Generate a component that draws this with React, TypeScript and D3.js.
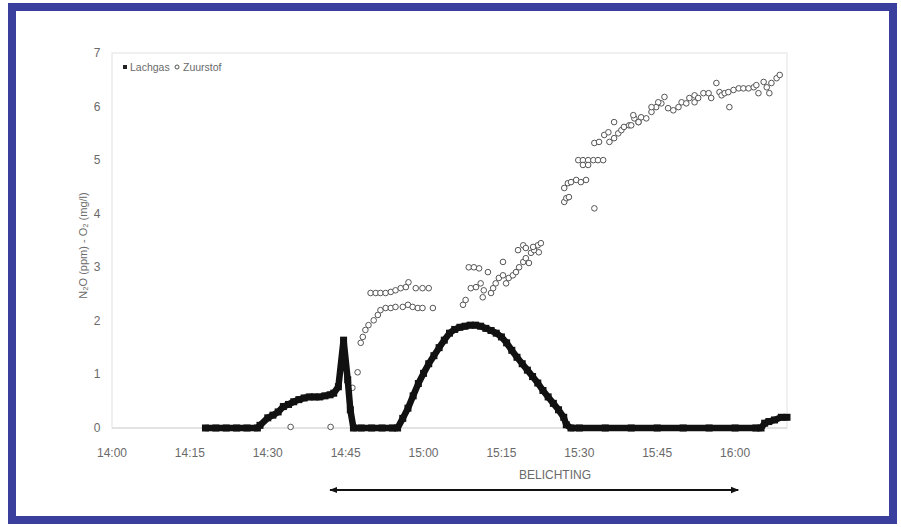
import React from "react";
import * as d3 from "d3";

// minutes after 14:00
const lachgasTime = [18, 20, 22, 24, 26, 28, 28.5, 30, 31, 32, 33, 34, 35, 36, 37, 38, 39, 40, 41, 42, 42.7, 43.6, 44.6, 45.4, 45.9, 46.5, 48, 50, 52, 54, 55, 56, 57, 58, 59, 60, 61, 62, 63, 64, 65, 66, 67, 68, 69, 70, 71, 72, 73, 74, 75, 76, 77, 78, 79, 80, 81, 82, 83, 84, 85, 86, 87, 87.5, 88.4, 90, 95, 100, 105, 110, 115, 120, 124, 125, 125.7, 126.5, 127.6, 128.9, 130];
const lachgasValue = [0, 0, 0, 0, 0, 0, 0.05, 0.19, 0.24, 0.3, 0.4, 0.44, 0.49, 0.53, 0.56, 0.58, 0.58, 0.58, 0.6, 0.62, 0.65, 0.77, 1.64, 0.9, 0.34, 0, 0, 0, 0, 0, 0, 0.18, 0.37, 0.6, 0.83, 1.02, 1.2, 1.35, 1.5, 1.64, 1.77, 1.84, 1.88, 1.9, 1.92, 1.92, 1.9, 1.86, 1.82, 1.77, 1.7, 1.59, 1.45, 1.32, 1.2, 1.08, 0.96, 0.84, 0.7, 0.58, 0.46, 0.34, 0.2, 0.06, 0, 0, 0, 0, 0, 0, 0, 0, 0, 0, 0.09, 0.12, 0.15, 0.2, 0.2];

const zuurstofTime = [34.4, 42.1, 46.3, 47.3, 47.9, 48.3, 48.8, 49.4, 50.4, 51.2, 51.7, 52.7, 53.7, 54.6, 56, 57, 57.9, 58.9, 59.8, 61.8, 49.8, 50.8, 51.7, 52.7, 53.7, 54.6, 55.6, 56.6, 57.1, 58.5, 59.8, 61,
  67.6, 68.1, 69.1, 70.1, 71, 71.4, 71.6, 73, 73.4, 73.9, 74.5, 75.3, 75.9, 76.4, 77.2, 77.8, 78.4, 79.2, 79.7, 80.3, 80.7, 81.3, 82, 82.2, 68.7, 69.7, 70.7, 72.4, 75.3, 78.2, 79.2, 79.7, 81.1, 82.6,
  92.9, 87.1, 87.5, 88, 87.1, 87.8, 88.4, 89.4, 90.3, 91.3, 89.8, 90.7, 91.7, 92.7, 93.6, 94.6, 90.7, 91.7, 92.9, 93.8, 94.8, 95.6, 95.8, 96.7, 97.5, 98.1, 98.6, 96.7, 99.6, 100.6, 100.4, 101.4, 101.9,
  100, 101.4, 102.9, 103.9, 104.8, 105.8, 106.4, 103.9, 105.2, 107.1, 108.1, 109.1, 109.7, 110.6, 111.2, 112.2, 112.2, 112.9, 113.9, 114.9, 116.4, 115.4, 117, 117.4, 118, 118.9, 118.7, 119.7, 120.7, 121.6, 122.6, 123.6, 124.1, 124.5, 125.5, 126.1, 126.6, 127, 128, 128.6];
const zuurstofValue = [0.02, 0.02, 0.75, 1.04, 1.59, 1.7, 1.83, 1.92, 2.01, 2.11, 2.2, 2.24, 2.24, 2.26, 2.26, 2.3, 2.26, 2.24, 2.24, 2.24, 2.52, 2.52, 2.52, 2.52, 2.54, 2.57, 2.61, 2.63, 2.72, 2.61, 2.61, 2.61,
  2.3, 2.39, 2.61, 2.63, 2.7, 2.44, 2.57, 2.52, 2.61, 2.7, 2.8, 2.85, 2.7, 2.8, 2.85, 2.91, 3.0, 3.1, 3.17, 3.08, 3.27, 3.32, 3.41, 3.28, 3.0, 3.0, 2.98, 2.91, 3.1, 3.32, 3.41, 3.36, 3.38, 3.45,
  4.1, 4.22, 4.29, 4.31, 4.48, 4.57, 4.59, 4.63, 4.59, 4.63, 5.0, 5.0, 5.0, 5.0, 5.0, 5.0, 4.91, 4.91, 5.32, 5.34, 5.47, 5.52, 5.34, 5.41, 5.5, 5.56, 5.62, 5.71, 5.65, 5.78, 5.84, 5.71, 5.8,
  5.65, 5.71, 5.78, 5.9, 5.99, 6.06, 6.18, 5.99, 6.08, 5.97, 5.93, 5.99, 6.08, 6.06, 6.16, 6.21, 6.08, 6.16, 6.25, 6.25, 6.44, 6.16, 6.27, 6.21, 6.25, 5.99, 6.27, 6.31, 6.34, 6.34, 6.34, 6.36, 6.4, 6.25, 6.46, 6.36, 6.25, 6.44, 6.53, 6.59];

const xTickMinutes = [0, 15, 30, 45, 60, 75, 90, 105, 120];
const xTickLabels = ["14:00", "14:15", "14:30", "14:45", "15:00", "15:15", "15:30", "15:45", "16:00"];
const yTicks = [0, 1, 2, 3, 4, 5, 6, 7];
const belichtingStart = 42;
const belichtingEnd = 120.6;

const font = "'Liberation Sans', Arial, sans-serif";
const textColor = "#6a6a6a";

export default function App() {
  const W = 901, H = 527;
  const left = 112, right = 787, top = 53, bottom = 428;
  const x = d3.scaleLinear().domain([0, 130]).range([left, right]);
  const y = d3.scaleLinear().domain([0, 7]).range([bottom, top]);

  const lachPts = lachgasTime.map((t, i) => [t, lachgasValue[i]] as [number, number]);
  const line = d3.line<[number, number]>().x(d => x(d[0])).y(d => y(d[1]));

  return (
    <svg width={W} height={H} style={{ position: "absolute", left: 0, top: 0, background: "#fff" }}>
      <defs>
        <marker id="ah" viewBox="0 0 10 10" refX="9" refY="5" markerWidth="4" markerHeight="4" orient="auto-start-reverse">
          <path d="M0,1 L10,5 L0,9 z" fill="#111" />
        </marker>
      </defs>
      <rect x={0} y={0} width={W} height={H} fill="#fff" />
      <rect x={12} y={7} width={881} height={513} fill="none" stroke="#3a3f9d" strokeWidth={8} />

      {/* plot frame */}
      <rect x={left} y={top} width={right - left} height={bottom - top} fill="none" stroke="#e2e2e2" strokeWidth={1} />
      <line x1={left} x2={right} y1={bottom} y2={bottom} stroke="#d4d4d4" strokeWidth={1} />

      {yTicks.map(v => (
        <text key={v} x={97} y={y(v) + 4} textAnchor="middle" fontFamily={font} fontSize={12} fill={textColor}>{v}</text>
      ))}
      {xTickMinutes.map((m, i) => (
        <text key={m} x={x(m)} y={457} textAnchor="middle" fontFamily={font} fontSize={12} fill={textColor}>{xTickLabels[i]}</text>
      ))}

      <text transform={`translate(87,${(top + bottom) / 2 + 5}) rotate(-90)`} textAnchor="middle" fontFamily={font} fontSize={11} fill={textColor}>
        N₂O (ppm) - O₂ (mg/l)
      </text>

      {/* legend */}
      <rect x={123} y={65} width={4} height={4} fill="#222" />
      <text x={130} y={71} fontFamily={font} fontSize={10.5} fill={textColor}>Lachgas</text>
      <circle cx={177} cy={67} r={2} fill="none" stroke="#555" strokeWidth={1} />
      <text x={183} y={71} fontFamily={font} fontSize={10.5} fill={textColor}>Zuurstof</text>

      {/* Zuurstof */}
      {zuurstofTime.map((t, i) => (
        <circle key={i} cx={x(t)} cy={y(zuurstofValue[i])} r={2.8} fill="#fff" stroke="#555" strokeWidth={1} />
      ))}

      {/* Lachgas */}
      <path d={line(lachPts) || ""} fill="none" stroke="#111" strokeWidth={6.5} strokeLinejoin="round" />
      {lachgasTime.map((t, i) => (
        <rect key={i} x={x(t) - 3.5} y={y(lachgasValue[i]) - 3.5} width={7} height={7} fill="#111" />
      ))}

      {/* Belichting */}
      <text x={555} y={479} textAnchor="middle" fontFamily={font} fontSize={12} fill={textColor}>BELICHTING</text>
      <line x1={x(belichtingStart)} x2={x(belichtingEnd)} y1={490} y2={490} stroke="#111" strokeWidth={2}
        markerStart="url(#ah)" markerEnd="url(#ah)" />
    </svg>
  );
}
